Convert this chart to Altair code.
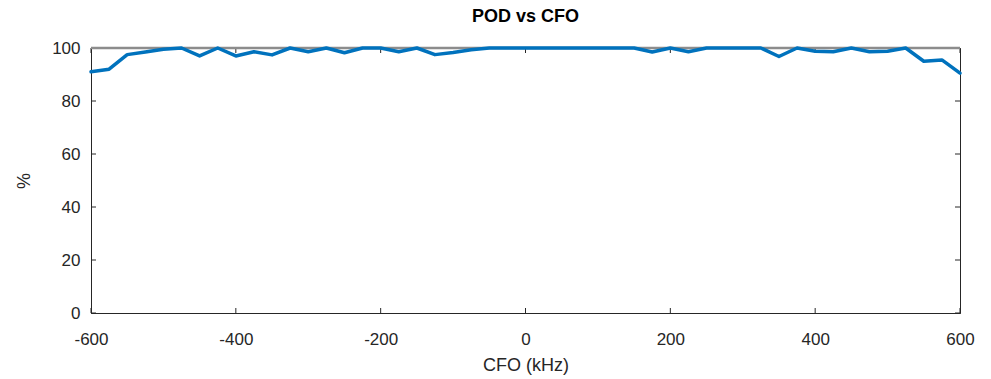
import altair as alt
import pandas as pd

# ---- data ----
cfo_khz = [-600, -575, -550, -525, -500, -475, -450, -425, -400, -375, -350, -325,
           -300, -275, -250, -225, -200, -175, -150, -125, -100, -75, -50, -25,
           0, 25, 50, 75, 100, 125, 150, 175, 200, 225, 250, 275, 300, 325,
           350, 375, 400, 425, 450, 475, 500, 525, 550, 575, 600]
pod_pct = [91, 92, 97.5, 98.5, 99.5, 100, 97, 100, 97, 98.6, 97.4, 100,
           98.6, 100, 98.2, 100, 100, 98.6, 100, 97.5, 98.3, 99.3, 100, 100,
           100, 100, 100, 100, 100, 100, 100, 98.5, 100, 98.6, 100, 100, 100, 100,
           96.8, 100, 98.8, 98.6, 100, 98.6, 98.8, 100, 95, 95.5, 90.5]
ref_x = [-600, 600]
ref_y = [100, 100]
x_ticks = [-600, -400, -200, 0, 200, 400, 600]
y_ticks = [0, 20, 40, 60, 80, 100]

W, H = 869, 265
FONT = "Liberation Sans"
INK = "#262626"

df = pd.DataFrame({"cfo": cfo_khz, "pod": pod_pct})
ref = pd.DataFrame({"cfo": ref_x, "pod": ref_y})
xt = pd.DataFrame({"x": x_ticks})
yt = pd.DataFrame({"y": y_ticks})

xscale = alt.Scale(domain=[-600, 600], nice=False, zero=False)
yscale = alt.Scale(domain=[0, 100], nice=False, zero=False)

xaxis = alt.Axis(values=x_ticks, ticks=False, grid=False, labelPadding=18,
                 labelExpr="'' + datum.value",
                 title="CFO (kHz)", titlePadding=9, labelFlush=False)
yaxis = alt.Axis(values=y_ticks, ticks=False, grid=False, labelPadding=11,
                 labelExpr="'' + datum.value",
                 title="%", titlePadding=18)

ref_line = alt.Chart(ref).mark_line(color="#8c8c8c", strokeWidth=2.5, clip=False).encode(
    x=alt.X("cfo:Q", scale=xscale, axis=xaxis),
    y=alt.Y("pod:Q", scale=yscale, axis=yaxis),
)

pod_line = alt.Chart(df).mark_line(color="#0072BD", strokeWidth=3.5, clip=False,
                                   strokeJoin="round", strokeCap="round").encode(
    x=alt.X("cfo:Q", scale=xscale),
    y=alt.Y("pod:Q", scale=yscale),
)

tk = 5
bottom_ticks = alt.Chart(xt).mark_rule(color=INK, strokeWidth=1).encode(
    x=alt.X("x:Q", scale=xscale), y=alt.value(H), y2=alt.value(H - tk))
top_ticks = alt.Chart(xt).mark_rule(color=INK, strokeWidth=1).encode(
    x=alt.X("x:Q", scale=xscale), y=alt.value(0), y2=alt.value(tk))
left_ticks = alt.Chart(yt).mark_rule(color=INK, strokeWidth=1).encode(
    y=alt.Y("y:Q", scale=yscale), x=alt.value(0), x2=alt.value(tk))
right_ticks = alt.Chart(yt).mark_rule(color=INK, strokeWidth=1).encode(
    y=alt.Y("y:Q", scale=yscale), x=alt.value(W), x2=alt.value(W - tk))

chart = alt.layer(
    bottom_ticks, top_ticks, left_ticks, right_ticks, ref_line, pod_line
).properties(
    width=W, height=H,
    title=alt.TitleParams("POD vs CFO", font=FONT, fontSize=18, fontWeight="bold",
                          color="#000000", anchor="middle", offset=13),
    autosize=alt.AutoSizeParams(type="none"),
    padding={"left": 91, "top": 48, "right": 31, "bottom": 66},
).configure_view(
    stroke=INK, strokeWidth=1
).configure_axis(
    labelFont=FONT, titleFont=FONT, labelFontSize=17, titleFontSize=18,
    labelColor=INK, titleColor=INK, titleFontWeight="normal",
    domainColor=INK, domainWidth=1
)

chart.save("out.html", embed_options={"renderer": "svg", "actions": False})
